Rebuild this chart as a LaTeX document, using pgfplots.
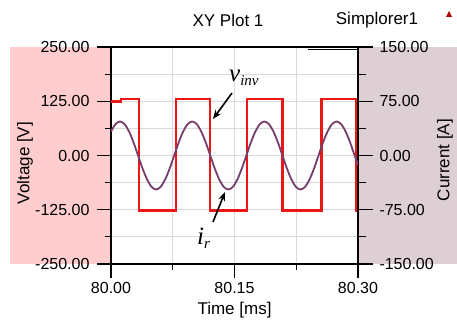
\documentclass[border=0pt]{standalone}
\usepackage{fontspec}
\setmainfont{Liberation Sans}
\newfontfamily\tnr{Liberation Serif}
\usepackage{pgfplots}
\pgfplotsset{compat=1.18}
\usetikzlibrary{arrows.meta}
\definecolor{lpink}{RGB}{255,205,205}
\definecolor{rpink}{RGB}{222,207,213}
\definecolor{curr}{RGB}{118,62,108}
\definecolor{vred}{RGB}{235,22,22}
\definecolor{gridc}{RGB}{218,218,218}
\begin{document}
\begin{tikzpicture}[font=\fontsize{16bp}{19bp}\selectfont]
\path[use as bounding box] (0,0) rectangle (457bp,322bp);
\fill[lpink] (10bp,58bp) rectangle (111bp,275bp);
\fill[rpink] (358bp,58bp) rectangle (457bp,275bp);
\begin{axis}[
  at={(111bp,58bp)}, anchor=south west,
  scale only axis, width=247bp, height=217bp,
  xmin=80, xmax=80.3, ymin=-250, ymax=250,
  xtick={80,80.15,80.3}, xticklabels={80.00,80.15,80.30},
  ytick={-250,-125,0,125,250},
  yticklabels={-250.00,-125.00,0.00,125.00,250.00},
  yticklabel style={xshift=-4bp},
  xticklabel style={yshift=-1bp},
  minor tick num=1,
  grid=both,
  major grid style={gridc, line width=0.8bp},
  minor grid style={gridc, line width=0.8bp},
  tick align=outside, tick pos=left,
  major tick length=14bp, minor tick length=6bp,
  axis line style={line width=1.2bp},
  every tick/.style={black, line width=1.2bp},
  axis background/.style={fill=white},
  xlabel={Time [ms]}, ylabel={Voltage [V]},
  xlabel style={at={(axis description cs:0.5,-0.212)}, anchor=center, font=\fontsize{17bp}{20bp}\selectfont},
  ylabel style={at={(axis description cs:-0.348,0.465)}, anchor=center, rotate=0, font=\fontsize{17bp}{20bp}\selectfont},
]
\addplot[vred, line width=2.6bp, line join=miter] coordinates {
(80.0000,125) (80.0121,125) (80.0121,130) (80.0340,130) (80.0340,-127)
(80.0790,-127) (80.0790,130) (80.1203,130) (80.1203,-127) (80.1652,-127)
(80.1652,130) (80.2081,130) (80.2081,-127) (80.2557,-127) (80.2557,130)
(80.2975,130) (80.2975,-127) (80.3000,-127)
};
\end{axis}
\begin{axis}[
  at={(111bp,58bp)}, anchor=south west,
  scale only axis, width=247bp, height=217bp,
  xmin=80, xmax=80.3, ymin=-150, ymax=150,
  axis x line=none, axis y line*=right,
  ytick={-150,-75,0,75,150},
  yticklabels={-150.00,-75.00,0.00,75.00,150.00},
  yticklabel style={xshift=3bp},
  minor y tick num=1,
  tick align=outside,
  major tick length=15bp, minor tick length=8bp,
  axis line style={line width=1.2bp},
  every tick/.style={black, line width=1.2bp},
  ylabel={Current [A]},
  ylabel style={at={(axis description cs:1.352,0.479)}, anchor=center, rotate=0, font=\fontsize{17bp}{20bp}\selectfont},
]
\addplot[curr, line width=1.8bp, smooth] coordinates {
(80.00000,33.2) (80.00548,43.4) (80.01096,47) (80.01644,43.4) (80.02192,33.2)
(80.02740,18.0) (80.03288,0) (80.03836,-18.0) (80.04384,-33.2) (80.04932,-43.4)
(80.05480,-47) (80.06028,-43.4) (80.06576,-33.2) (80.07124,-18.0) (80.07672,0)
(80.08220,18.0) (80.08768,33.2) (80.09316,43.4) (80.09864,47) (80.10412,43.4)
(80.10960,33.2) (80.11508,18.0) (80.12056,0) (80.12604,-18.0) (80.13152,-33.2)
(80.13700,-43.4) (80.14248,-47) (80.14796,-43.4) (80.15344,-33.2) (80.15892,-18.0)
(80.16440,0) (80.16988,18.0) (80.17536,33.2) (80.18084,43.4) (80.18632,47)
(80.19180,43.4) (80.19728,33.2) (80.20276,18.0) (80.20824,0) (80.21372,-18.0)
(80.21920,-33.2) (80.22468,-43.4) (80.23016,-47) (80.23564,-43.4) (80.24112,-33.2)
(80.24660,-18.0) (80.25208,0) (80.25756,18.0) (80.26304,33.2) (80.26852,43.4)
(80.27400,47) (80.27948,43.4) (80.28496,33.2) (80.29044,18.0) (80.29592,0)
(80.30000,-13.3)
};
\end{axis}
\node[font=\fontsize{17bp}{20bp}\selectfont] at (228bp,302bp) {XY Plot 1};
\node[font=\fontsize{17bp}{20bp}\selectfont] at (377bp,302bp) {Simplorer1};
\fill[red!70!black] (446bp,305bp) -- (452bp,305bp) -- (449bp,311bp) -- cycle;
\draw[line width=0.9bp] (308bp,272.5bp) -- (358bp,272.5bp);
\node[anchor=base west, inner sep=0pt] at (229bp,240bp) {\tnr\itshape\fontsize{25bp}{27bp}\selectfont v\raisebox{-0.3ex}{\fontsize{15bp}{17bp}\selectfont inv}};
\node[anchor=base west, inner sep=0pt] at (197bp,77bp) {\tnr\itshape\fontsize{25bp}{27bp}\selectfont i\raisebox{-0.3ex}{\fontsize{15bp}{17bp}\selectfont r}};
\draw[line width=1.6bp, -{Stealth[length=9bp, width=7bp]}] (232bp,229bp) -- (213bp,203bp);
\draw[line width=1.6bp, -{Stealth[length=9bp, width=7bp]}] (213bp,100bp) -- (225bp,130bp);
\end{tikzpicture}
\end{document}
